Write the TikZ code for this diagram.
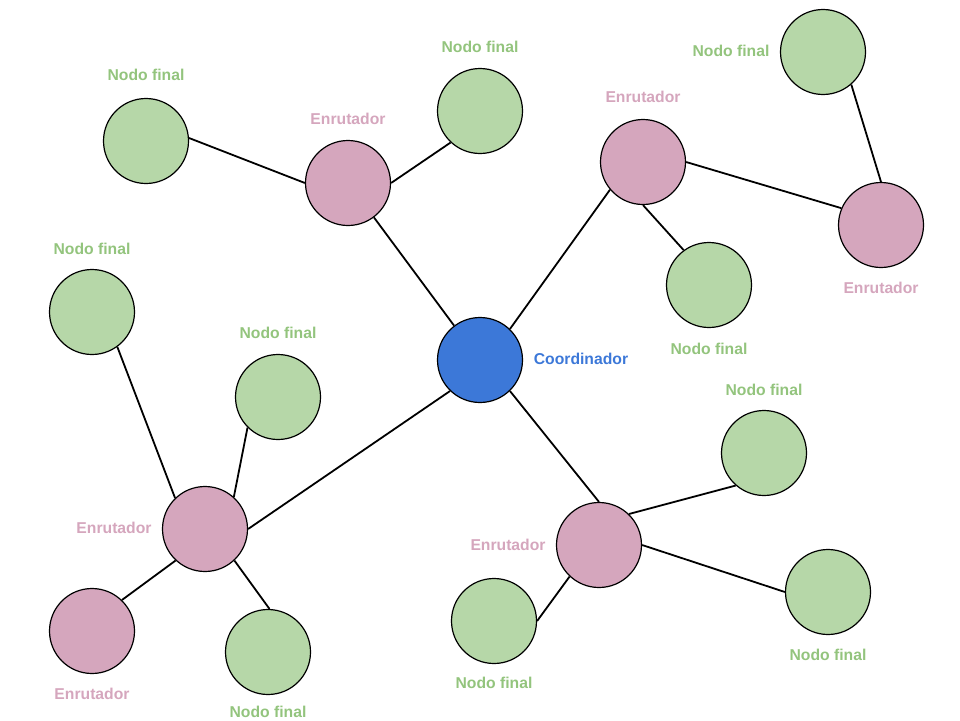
\documentclass[tikz,border=0pt]{standalone}
\usepackage{fontspec}
\setmainfont{Liberation Sans}
\definecolor{gfill}{HTML}{B6D7A8}
\definecolor{pfill}{HTML}{D5A6BD}
\definecolor{bfill}{HTML}{3C78D8}
\definecolor{gtext}{HTML}{93C47D}
\definecolor{ptext}{HTML}{D5A6BD}
\definecolor{btext}{HTML}{3C78D8}
\begin{document}
\begin{tikzpicture}[x=1pt,y=-1pt,
  nd/.style={circle,draw=black,line width=1.2pt,minimum size=85pt,inner sep=0pt},
  fin/.style={nd,fill=gfill},
  rtr/.style={nd,fill=pfill},
  crd/.style={nd,fill=bfill},
  lbl/.style={font=\fontsize{15.7}{18}\selectfont\bfseries,inner sep=0pt},
  gl/.style={lbl,text=gtext},
  pl/.style={lbl,text=ptext},
  bl/.style={lbl,text=btext},
  edge/.style={line width=1.8pt,draw=black}]
\useasboundingbox (0,0) rectangle (960,720);
% nodes
\node[crd] (c) at (480,360) {};
\node[rtr] (r1) at (348,183) {};
\node[fin] (f1) at (146,141) {};
\node[fin] (f2) at (480,111) {};
\node[rtr] (r2) at (643,162) {};
\node[fin] (f3) at (709,285) {};
\node[rtr] (r3) at (881,225) {};
\node[fin] (f4) at (823,52) {};
\node[fin] (f5) at (92,312) {};
\node[fin] (f6) at (278,397) {};
\node[rtr] (r4) at (205,529) {};
\node[rtr] (r5) at (92,631) {};
\node[fin] (f7) at (268,652) {};
\node[rtr] (r6) at (599,545) {};
\node[fin] (f8) at (494,621) {};
\node[fin] (f9) at (764,453) {};
\node[fin] (f10) at (828,592) {};
% labels
\node[bl] (lc) at (581,359) {Coordinador};
\node[pl] (lr1) at (348,119) {Enrutador};
\node[gl] (lf1) at (146,75) {Nodo final};
\node[gl] (lf2) at (480,47) {Nodo final};
\node[pl] (lr2) at (643,97) {Enrutador};
\node[gl] (lf3) at (709,349) {Nodo final};
\node[pl] (lr3) at (881,288) {Enrutador};
\node[gl] (lf4) at (731,51) {Nodo final};
\node[gl] (lf5) at (92,249) {Nodo final};
\node[gl] (lf6) at (278,333) {Nodo final};
\node[pl] (lr4) at (114,528) {Enrutador};
\node[pl] (lr5) at (92,694) {Enrutador};
\node[gl] (lf7) at (268,712) {Nodo final};
\node[pl] (lr6) at (508,545) {Enrutador};
\node[gl] (lf8) at (494,683) {Nodo final};
\node[gl] (lf9) at (764,390) {Nodo final};
\node[gl] (lf10) at (828,655) {Nodo final};
% edges
\draw[edge] (c.127) -- (r1.307);
\draw[edge] (r1.180) -- (f1.4);
\draw[edge] (r1.0) -- (f2.227);
\draw[edge] (c.46) -- (r2.220);
\draw[edge] (r2.270) -- (f3.126);
\draw[edge] (r2.0) -- (r3.157);
\draw[edge] (r3.90) -- (f4.311);
\draw[edge] (c.226) -- (r4.0);
\draw[edge] (r4.134) -- (f5.306);
\draw[edge] (r4.48) -- (f6.225);
\draw[edge] (r4.227) -- (r5.46);
\draw[edge] (r4.313) -- (f7.88);
\draw[edge] (c.314) -- (r6.90);
\draw[edge] (r6.46) -- (f9.229);
\draw[edge] (r6.0) -- (f10.180);
\draw[edge] (r6.227) -- (f8.0);
\end{tikzpicture}
\end{document}
